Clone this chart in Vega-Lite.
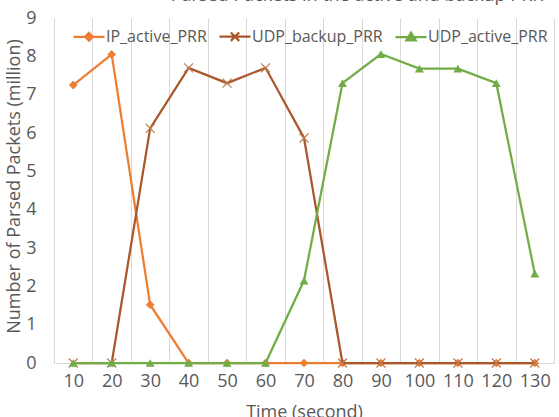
{
  "$schema": "https://vega.github.io/schema/vega-lite/v6.json",
  "autosize": {"type": "none"},
  "width": 500,
  "height": 345,
  "padding": {"left": 54, "top": 18, "right": 5, "bottom": 54},
  "background": "white",
  "config": {
    "font": "Open Sans",
    "view": {"stroke": null}
  },
  "title": {
    "text": "Parsed Packets in the active and backup PRR",
    "fontSize": 18,
    "fontWeight": "normal",
    "color": "#595959",
    "anchor": "middle",
    "dx": 53,
    "baseline": "alphabetic",
    "offset": -10
  },
  "data": {
    "values": [
      {"time": 10, "series": "IP_active_PRR", "value": 7.25},
      {"time": 20, "series": "IP_active_PRR", "value": 8.05},
      {"time": 30, "series": "IP_active_PRR", "value": 1.52},
      {"time": 40, "series": "IP_active_PRR", "value": 0},
      {"time": 50, "series": "IP_active_PRR", "value": 0},
      {"time": 60, "series": "IP_active_PRR", "value": 0},
      {"time": 70, "series": "IP_active_PRR", "value": 0},
      {"time": 80, "series": "IP_active_PRR", "value": 0},
      {"time": 90, "series": "IP_active_PRR", "value": 0},
      {"time": 100, "series": "IP_active_PRR", "value": 0},
      {"time": 110, "series": "IP_active_PRR", "value": 0},
      {"time": 120, "series": "IP_active_PRR", "value": 0},
      {"time": 130, "series": "IP_active_PRR", "value": 0},
      {"time": 10, "series": "UDP_backup_PRR", "value": 0},
      {"time": 20, "series": "UDP_backup_PRR", "value": 0},
      {"time": 30, "series": "UDP_backup_PRR", "value": 6.12},
      {"time": 40, "series": "UDP_backup_PRR", "value": 7.7},
      {"time": 50, "series": "UDP_backup_PRR", "value": 7.3},
      {"time": 60, "series": "UDP_backup_PRR", "value": 7.7},
      {"time": 70, "series": "UDP_backup_PRR", "value": 5.87},
      {"time": 80, "series": "UDP_backup_PRR", "value": 0},
      {"time": 90, "series": "UDP_backup_PRR", "value": 0},
      {"time": 100, "series": "UDP_backup_PRR", "value": 0},
      {"time": 110, "series": "UDP_backup_PRR", "value": 0},
      {"time": 120, "series": "UDP_backup_PRR", "value": 0},
      {"time": 130, "series": "UDP_backup_PRR", "value": 0},
      {"time": 10, "series": "UDP_active_PRR", "value": 0},
      {"time": 20, "series": "UDP_active_PRR", "value": 0},
      {"time": 30, "series": "UDP_active_PRR", "value": 0},
      {"time": 40, "series": "UDP_active_PRR", "value": 0},
      {"time": 50, "series": "UDP_active_PRR", "value": 0},
      {"time": 60, "series": "UDP_active_PRR", "value": 0},
      {"time": 70, "series": "UDP_active_PRR", "value": 2.15},
      {"time": 80, "series": "UDP_active_PRR", "value": 7.3},
      {"time": 90, "series": "UDP_active_PRR", "value": 8.06},
      {"time": 100, "series": "UDP_active_PRR", "value": 7.68},
      {"time": 110, "series": "UDP_active_PRR", "value": 7.68},
      {"time": 120, "series": "UDP_active_PRR", "value": 7.3},
      {"time": 130, "series": "UDP_active_PRR", "value": 2.33}
    ]
  },
  "encoding": {
    "x": {
      "field": "time",
      "type": "quantitative",
      "scale": {"domain": [5, 135], "nice": false, "zero": false},
      "axis": {
        "title": "Time (second)",
        "titleFontSize": 18,
        "titleFontWeight": "normal",
        "titleColor": "#595959",
        "titlePadding": 13,
        "values": [5, 10, 15, 20, 25, 30, 35, 40, 45, 50, 55, 60, 65, 70, 75, 80, 85, 90, 95, 100, 105, 110, 115, 120, 125, 130, 135],
        "labelExpr": "datum.value % 10 == 0 ? datum.label : ''",
        "labelOverlap": false,
        "labelFlush": false,
        "labelFontSize": 18,
        "labelColor": "#595959",
        "labelPadding": 9,
        "ticks": false,
        "domain": true,
        "domainColor": "#D9D9D9",
        "grid": true,
        "gridColor": "#D9D9D9",
        "gridOpacity": {"condition": {"test": "datum.value % 10 == 5", "value": 1}, "value": 0}
      }
    },
    "y": {
      "field": "value",
      "type": "quantitative",
      "scale": {"domain": [0, 9], "nice": false},
      "axis": {
        "title": "Number of  Parsed Packets (million)",
        "titleFontSize": 18,
        "titleFontWeight": "normal",
        "titleColor": "#595959",
        "titleX": -40,
        "titleY": 168,
        "titleBaseline": "middle",
        "values": [0, 1, 2, 3, 4, 5, 6, 7, 8, 9],
        "labelFontSize": 18,
        "labelColor": "#595959",
        "labelPadding": 18,
        "ticks": false,
        "domain": false,
        "grid": false
      }
    }
  },
  "layer": [
    {
      "transform": [{"filter": "datum.series === 'IP_active_PRR'"}],
      "mark": {"type": "line", "strokeWidth": 2.25},
      "encoding": {
        "color": {
          "field": "series",
          "type": "nominal",
          "scale": {
            "domain": ["IP_active_PRR", "UDP_backup_PRR", "UDP_active_PRR"],
            "range": ["#ED7D31", "#A9572B", "#70AD47"]
          },
          "legend": {
            "title": null,
            "orient": "none",
            "legendX": 18,
            "legendY": 1.5,
            "direction": "horizontal",
            "columns": 3,
            "padding": 0,
            "columnPadding": 8,
            "symbolSize": 961,
            "symbolStrokeWidth": 2.25,
            "labelOffset": 0,
            "labelFontSize": 16,
            "labelColor": "#595959",
            "labelFont": "Open Sans",
            "encode": {
              "symbols": {
                "update": {
                  "shape": {"signal": "datum.value === 'IP_active_PRR' ? 'M-1,0H1M0,-0.25L0.25,0L0,0.25L-0.25,0Z' : (datum.value === 'UDP_backup_PRR' ? 'M-1,0H1M-0.27,-0.27L0.27,0.27M-0.27,0.27L0.27,-0.27' : 'M-1,0H1M0,-0.28L0.3,0.22L-0.3,0.22Z')"},
                  "fill": {"scale": "color", "field": "value"},
                  "stroke": {"scale": "color", "field": "value"},
                  "opacity": {"value": 1}
                }
              }
            }
          }
        }
      }
    },
    {
      "transform": [{"filter": "datum.series === 'IP_active_PRR'"}],
      "mark": {"type": "point", "shape": "diamond", "filled": true, "size": 75, "opacity": 1, "color": "#ED7D31"}
    },
    {
      "transform": [{"filter": "datum.series === 'UDP_backup_PRR'"}],
      "mark": {"type": "line", "strokeWidth": 2.25},
      "encoding": {"color": {"field": "series", "type": "nominal"}}
    },
    {
      "transform": [{"filter": "datum.series === 'UDP_backup_PRR'"}],
      "mark": {"type": "point", "shape": "M-1,-1L1,1M-1,1L1,-1", "filled": false, "size": 80, "opacity": 1, "stroke": "#C07A50", "strokeWidth": 1.2}
    },
    {
      "transform": [{"filter": "datum.series === 'UDP_active_PRR'"}],
      "mark": {"type": "line", "strokeWidth": 2.25},
      "encoding": {"color": {"field": "series", "type": "nominal"}}
    },
    {
      "transform": [{"filter": "datum.series === 'UDP_active_PRR'"}],
      "mark": {"type": "point", "shape": "triangle-up", "filled": true, "size": 80, "opacity": 1, "color": "#70AD47"}
    }
  ]
}
